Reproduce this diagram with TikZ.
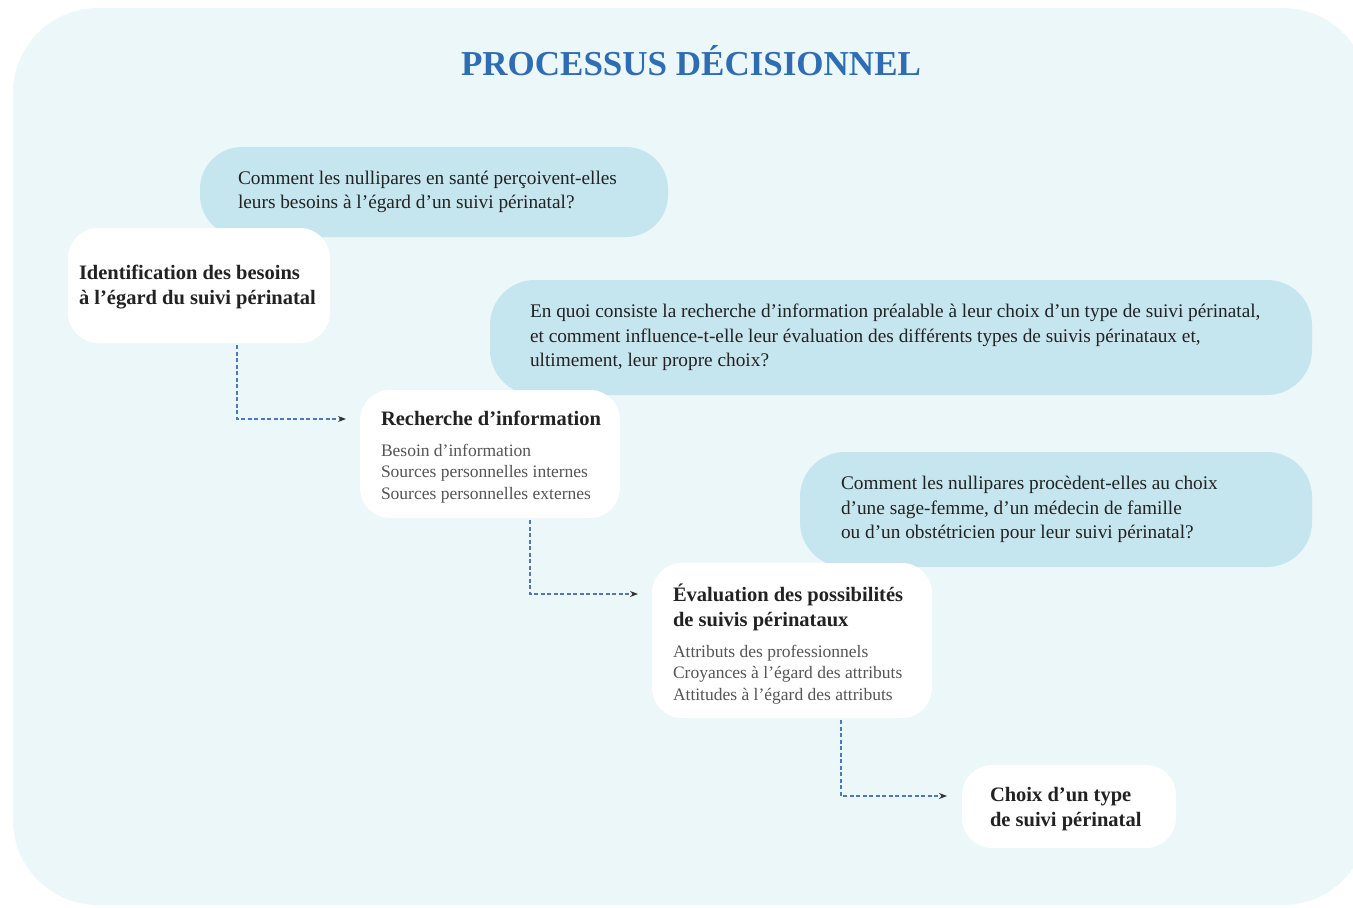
\documentclass[tikz,border=0pt]{standalone}
\usepackage{fontspec}
\setmainfont{Liberation Serif}
\usetikzlibrary{arrows.meta}
\definecolor{bgcol}{HTML}{EBF7F9}
\definecolor{bubcol}{HTML}{C5E6EF}
\definecolor{titlecol}{HTML}{2E6DB4}
\definecolor{dashcol}{HTML}{4F75C6}
\definecolor{txtcol}{HTML}{222222}
\definecolor{subcol}{HTML}{555555}
\newcommand{\bt}{\fontsize{20.5}{25}\selectfont\bfseries\color{txtcol}}
\tikzset{
  bubble/.style={fill=bubcol, rounded corners=45pt, inner sep=0pt},
  whitebox/.style={fill=white, rounded corners=30pt, inner sep=0pt},
  qtext/.style={align=left, inner sep=0pt, text=txtcol, font=\fontsize{19.3}{24.5}\selectfont},
  btext/.style={align=left, inner sep=0pt, text=txtcol, font=\fontsize{20.5}{25}\selectfont\bfseries},
  stext/.style={align=left, inner sep=0pt, text=subcol, font=\fontsize{17.5}{21.5}\selectfont},
  conn/.style={draw=dashcol, line width=1.1pt, dash pattern=on 4pt off 2.5pt,
    -{Stealth[length=8pt,width=6pt,color=black!80]}},
}
\begin{document}
\begin{tikzpicture}[x=1pt,y=-1pt]
\useasboundingbox (0,0) rectangle (1353,908);
\fill[bgcol, rounded corners=85pt] (13,8) rectangle (1368,905);
\node[font=\fontsize{35}{40}\selectfont\bfseries, text=titlecol] (title) at (691,61) {PROCESSUS DÉCISIONNEL};
% question bubbles
\node[bubble, rounded corners=42pt, minimum width=468pt, minimum height=90pt] (q1) at (434,192) {};
\node[qtext, anchor=west] (q1t) at ([xshift=38pt]q1.west) {Comment les nullipares en santé perçoivent-elles\\leurs besoins à l’égard d’un suivi périnatal?};
\node[bubble, minimum width=822pt, minimum height=115pt] (q2) at (901,337.5) {};
\node[qtext, anchor=west] (q2t) at ([xshift=40pt]q2.west) {En quoi consiste la recherche d’information préalable à leur choix d’un type de suivi périnatal,\\et comment influence-t-elle leur évaluation des différents types de suivis périnataux et,\\ultimement, leur propre choix?};
\node[bubble, minimum width=512pt, minimum height=115pt] (q3) at (1056,509.5) {};
\node[qtext, anchor=west] (q3t) at ([xshift=41pt]q3.west) {Comment les nullipares procèdent-elles au choix\\d’une sage-femme, d’un médecin de famille\\ou d’un obstétricien pour leur suivi périnatal?};
% white steps
\node[whitebox, minimum width=262pt, minimum height=115pt] (s1) at (199,285.5) {};
\node[btext, anchor=west] (s1t) at ([xshift=11pt,yshift=-1.5pt]s1.west) {Identification des besoins\\à l’égard du suivi périnatal};
\node[whitebox, minimum width=260pt, minimum height=128pt] (s2) at (490,454) {};
\node[stext, anchor=west] (s2t) at ([xshift=21pt,yshift=-3pt]s2.west) {{\bt Recherche d’information}\\[9.5pt]Besoin d’information\\Sources personnelles internes\\Sources personnelles externes};
\node[whitebox, minimum width=280pt, minimum height=155pt] (s3) at (792,640.5) {};
\node[stext, anchor=west] (s3t) at ([xshift=21pt,yshift=-3.5pt]s3.west) {{\bt Évaluation des possibilités}\\[3.5pt]{\bt de suivis périnataux}\\[9.5pt]Attributs des professionnels\\Croyances à l’égard des attributs\\Attitudes à l’égard des attributs};
\node[whitebox, minimum width=214pt, minimum height=83pt] (s4) at (1069,806.5) {};
\node[btext, anchor=west] (s4t) at ([xshift=28pt,yshift=-2.5pt]s4.west) {Choix d’un type\\de suivi périnatal};
% connectors
\coordinate (a1s) at (237,345);
\coordinate (a1e) at (346,419);
\coordinate (a2s) at (530,520);
\coordinate (a2e) at (638,594);
\coordinate (a3s) at (841,720);
\coordinate (a3e) at (947,796);
\draw[conn] (a1s) |- (a1e);
\draw[conn] (a2s) |- (a2e);
\draw[conn] (a3s) |- (a3e);
\end{tikzpicture}
\end{document}
